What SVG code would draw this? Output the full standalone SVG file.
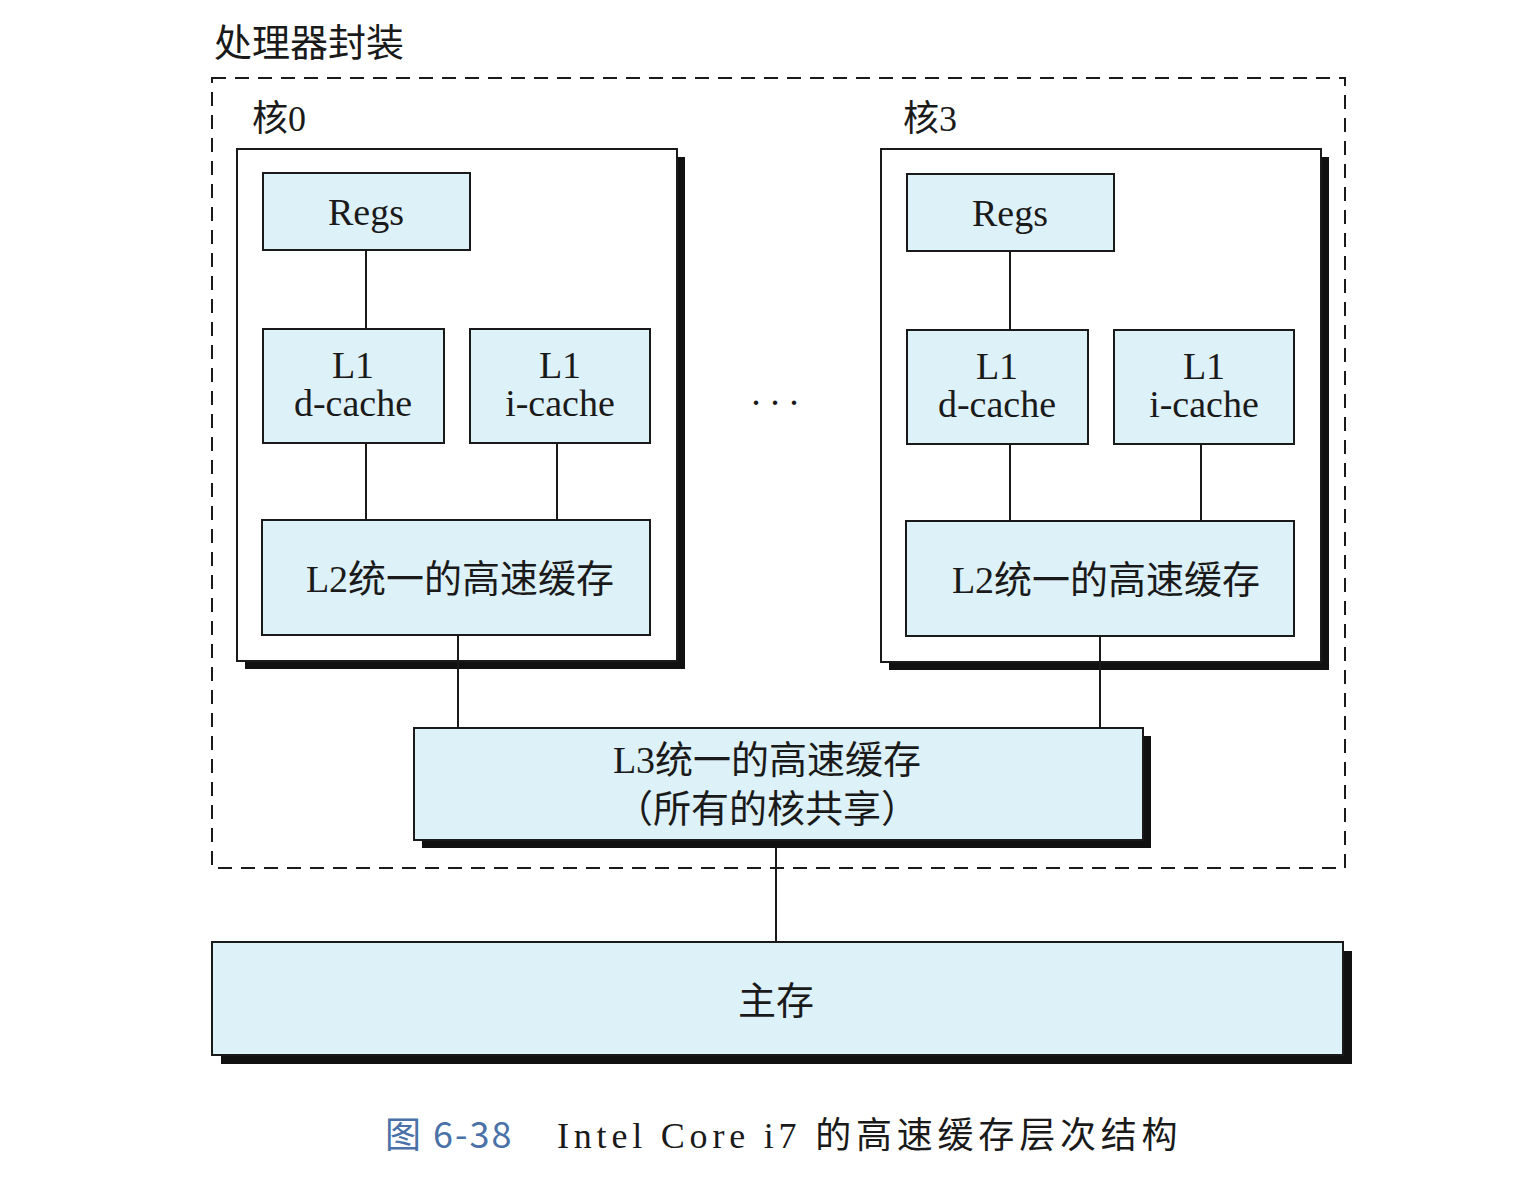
<svg xmlns="http://www.w3.org/2000/svg" width="1540" height="1192" viewBox="0 0 1540 1192">
<style>
.t{font-family:"Liberation Serif","Noto Sans CJK SC",serif;fill:#1a1a1a;}
.c{text-anchor:middle;font-size:38px;}
.box{fill:#ddf1f8;stroke:#1a1a1a;stroke-width:2;}
.core{fill:#fff;stroke:#1a1a1a;stroke-width:2;}
.sh{fill:#111;}
.ln{stroke:#1a1a1a;stroke-width:2;fill:none;}
</style>
<rect width="1540" height="1192" fill="#fff"/>
<g id="package">
<rect x="212" y="78" width="1133" height="790" fill="none" stroke="#1a1a1a" stroke-width="2" stroke-dasharray="14,9"/>
<text class="t" x="214" y="56" font-size="38">处理器封装</text>
</g>
<g id="core0">
<text class="t" x="252" y="131" font-size="36">核0</text>
<rect class="sh" x="245" y="157" width="440" height="512"/>
<rect class="core" x="237" y="149" width="440" height="512"/>
</g>
<g id="core0-regs"><rect class="box" x="263" y="173" width="207" height="77"/><text class="t c" x="366" y="225">Regs</text></g>
<g id="core0-l1d"><rect class="box" x="263" y="329" width="181" height="114"/><text class="t c" x="353" y="378">L1</text><text class="t c" x="353" y="416">d-cache</text></g>
<g id="core0-l1i"><rect class="box" x="470" y="329" width="180" height="114"/><text class="t c" x="560" y="378">L1</text><text class="t c" x="560" y="416">i-cache</text></g>
<g id="core0-l2"><rect class="box" x="262" y="520" width="388" height="115"/><text class="t c" x="460" y="592">L2统一的高速缓存</text></g>
<g id="dots"><text class="t c" x="775" y="405">. . .</text></g>
<g id="core3">
<text class="t" x="903" y="131" font-size="36">核3</text>
<rect class="sh" x="889" y="157" width="440" height="513"/>
<rect class="core" x="881" y="149" width="440" height="513"/>
</g>
<g id="core3-regs"><rect class="box" x="907" y="174" width="207" height="77"/><text class="t c" x="1010" y="226">Regs</text></g>
<g id="core3-l1d"><rect class="box" x="907" y="330" width="181" height="114"/><text class="t c" x="997" y="379">L1</text><text class="t c" x="997" y="417">d-cache</text></g>
<g id="core3-l1i"><rect class="box" x="1114" y="330" width="180" height="114"/><text class="t c" x="1204" y="379">L1</text><text class="t c" x="1204" y="417">i-cache</text></g>
<g id="core3-l2"><rect class="box" x="906" y="521" width="388" height="115"/><text class="t c" x="1106" y="593">L2统一的高速缓存</text></g>
<g id="l3">
<rect class="sh" x="422" y="736" width="729" height="112"/>
<rect class="box" x="414" y="728" width="729" height="112"/>
<text class="t c" x="767" y="773">L3统一的高速缓存</text>
<text class="t c" x="767" y="822">（所有的核共享）</text>
</g>
<g id="mainmem">
<rect class="sh" x="221" y="951" width="1131" height="113"/>
<rect class="box" x="212" y="942" width="1131" height="113" fill="#d6eef6"/>
<text class="t c" x="776" y="1014" font-size="37">主存</text>
</g>
<g id="connectors">
<line class="ln" x1="366" y1="250" x2="366" y2="329"/>
<line class="ln" x1="366" y1="443" x2="366" y2="520"/>
<line class="ln" x1="557" y1="443" x2="557" y2="520"/>
<line class="ln" x1="1010" y1="251" x2="1010" y2="330"/>
<line class="ln" x1="1010" y1="444" x2="1010" y2="521"/>
<line class="ln" x1="1201" y1="444" x2="1201" y2="521"/>
<line class="ln" x1="458" y1="635" x2="458" y2="728"/>
<line class="ln" x1="1100" y1="636" x2="1100" y2="728"/>
<line class="ln" x1="776" y1="848" x2="776" y2="942"/>
</g>
<g id="caption">
<text x="385" y="1148" font-size="36" letter-spacing="2" font-family="'Noto Sans CJK SC','Liberation Sans',sans-serif" fill="#4a72a8">图 6-38</text>
<text x="557" y="1148" font-size="36" letter-spacing="4.8" font-family="'Liberation Serif','Noto Sans CJK SC',serif" fill="#1a1a1a">Intel Core i7 的高速缓存层次结构</text>
</g>
</svg>
